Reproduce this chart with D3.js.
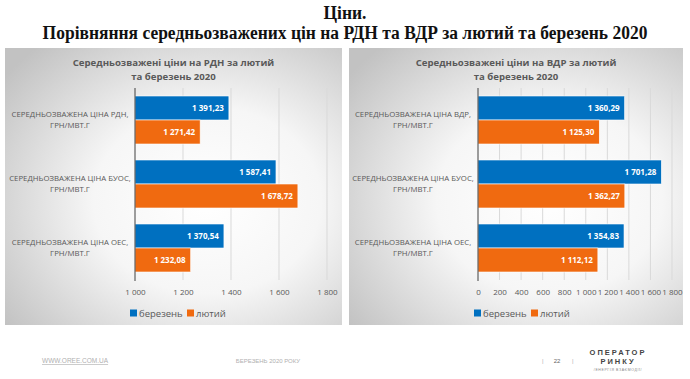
<!DOCTYPE html>
<html>
<head>
<meta charset="utf-8">
<script src="https://cdn.jsdelivr.net/npm/d3@7"></script>
<style>
  body { margin: 0; background: #fff; }
  svg { display: block; }
</style>
</head>
<body>
<script>
// data
var seriesNames = ["березень", "лютий"];
var catsRdn = ["СЕРЕДНЬОЗВАЖЕНА ЦІНА РДН,|ГРН/МВТ.Г", "СЕРЕДНЬОЗВАЖЕНА ЦІНА БУОС,|ГРН/МВТ.Г", "СЕРЕДНЬОЗВАЖЕНА ЦІНА ОЕС,|ГРН/МВТ.Г"];
var berezenRdn = [1391.23, 1587.41, 1370.54];
var lyutyiRdn = [1271.42, 1678.72, 1232.08];
var ticksRdn = [1000, 1200, 1400, 1600, 1800];

var catsVdr = ["СЕРЕДНЬОЗВАЖЕНА ЦІНА ВДР,|ГРН/МВТ.Г", "СЕРЕДНЬОЗВАЖЕНА ЦІНА БУОС,|ГРН/МВТ.Г", "СЕРЕДНЬОЗВАЖЕНА ЦІНА ОЕС,|ГРН/МВТ.Г"];
var berezenVdr = [1360.29, 1701.28, 1354.83];
var lyutyiVdr = [1125.30, 1362.27, 1112.12];
var ticksVdr = [0, 200, 400, 600, 800, 1000, 1200, 1400, 1600, 1800];

var colors = ["#0070C0", "#F06A10"];
var W = 690, H = 379;
var ua = d3.formatLocale({decimal: ",", thousands: "\u00a0", grouping: [3], currency: ["", ""]});
var fmtVal = ua.format(",.2f");
var fmtTick = ua.format(",.0f");
var sans = "'Open Sans', sans-serif";

var svg = d3.select("body").append("svg")
  .attr("width", W).attr("height", H);

var defs = svg.append("defs");
var grad = defs.append("radialGradient").attr("id", "panelGrad")
  .attr("cx", "60%").attr("cy", "55%").attr("r", "75%");
grad.append("stop").attr("offset", "0%").attr("stop-color", "#ffffff");
grad.append("stop").attr("offset", "45%").attr("stop-color", "#f6f6f6");
grad.append("stop").attr("offset", "100%").attr("stop-color", "#c2c2c2");

// slide title (Times-like, a bit narrower)
var ttl = svg.append("g").attr("transform", "translate(345,0) scale(0.92,1)")
  .attr("font-family", "'Liberation Serif', serif").attr("font-weight", "bold")
  .attr("font-size", 19).attr("fill", "#111").attr("text-anchor", "middle");
ttl.append("text").attr("x", 0).attr("y", 19).text("Ціни.");
ttl.append("text").attr("x", 0).attr("y", 39)
  .text("Порівняння середньозважених цін на РДН та ВДР за лютий та березень 2020");

function drawPanel(p) {
  var g = svg.append("g");
  g.append("rect").attr("x", p.px).attr("y", p.py).attr("width", p.pw).attr("height", p.ph)
    .attr("fill", "url(#panelGrad)");

  var cx = p.px + p.pw / 2;
  g.selectAll("text.ttl").data(p.title).enter().append("text")
    .attr("x", cx).attr("y", function(d, i) { return 66 + i * 13.5; })
    .attr("text-anchor", "middle").attr("font-family", sans)
    .attr("font-weight", "bold").attr("font-size", 9.6).attr("fill", "#595959")
    .text(function(d) { return d; });

  var x = d3.scaleLinear().domain(p.domain).range([p.x0, p.x1]);
  var y = d3.scaleBand().domain(p.cats).range([88, 280])
    .paddingInner(0.25).paddingOuter(0.125);
  var ySub = d3.scaleBand().domain([0, 1]).range([0, y.bandwidth()]);

  // grid
  g.selectAll("line.grid").data(p.ticks.slice(1)).enter().append("line")
    .attr("x1", function(d) { return x(d); }).attr("x2", function(d) { return x(d); })
    .attr("y1", 88).attr("y2", 280)
    .attr("stroke", "#d9d9d9").attr("stroke-width", 1);

  // tick labels via axis
  var ax = g.append("g").attr("transform", "translate(0,286)")
    .call(d3.axisBottom(x).tickValues(p.ticks).tickFormat(fmtTick).tickSize(0));
  ax.select(".domain").remove();
  ax.selectAll("text").attr("font-family", sans).attr("font-size", 8)
    .attr("fill", "#595959");

  // bars
  var rows = p.cats.map(function(c, i) { return {cat: c, vals: [p.s1[i], p.s2[i]]}; });
  var grp = g.selectAll("g.cat").data(rows).enter().append("g")
    .attr("transform", function(d) { return "translate(0," + y(d.cat) + ")"; });
  var bars = grp.selectAll("g.bar").data(function(d) { return d.vals; }).enter().append("g");
  bars.append("rect")
    .attr("x", x(p.domain[0]))
    .attr("y", function(d, i) { return ySub(i); })
    .attr("width", function(d) { return x(d) - x(p.domain[0]); })
    .attr("height", ySub.bandwidth())
    .attr("fill", function(d, i) { return colors[i]; })
    .attr("stroke", "#ffffff").attr("stroke-width", 0.6);
  bars.append("text")
    .attr("x", function(d) { return x(d) - 5; })
    .attr("y", function(d, i) { return ySub(i) + ySub.bandwidth() / 2 + 3; })
    .attr("text-anchor", "end").attr("font-family", sans).attr("font-weight", "bold")
    .attr("font-size", 8).attr("fill", "#fff")
    .text(function(d) { return fmtVal(d); });

  // category labels
  grp.each(function(d) {
    var lines = d.cat.split("|");
    d3.select(this).selectAll("text.cl").data(lines).enter().append("text")
      .attr("x", p.labelX)
      .attr("y", function(t, i) { return y.bandwidth() / 2 - 3 + i * 11; })
      .attr("text-anchor", "middle").attr("font-family", sans)
      .attr("font-size", 7.8).attr("fill", "#595959")
      .text(function(t) { return t; });
  });

  // base axis
  g.append("line").attr("x1", p.x0).attr("x2", p.x0).attr("y1", 88).attr("y2", 281)
    .attr("stroke", "#404040").attr("stroke-width", 1);

  // legend
  var leg = g.selectAll("g.leg").data(seriesNames).enter().append("g")
    .attr("transform", function(d, i) { return "translate(" + (p.legX + i * 57) + ",313)"; });
  leg.append("rect").attr("x", 0).attr("y", -3.5).attr("width", 7).attr("height", 7)
    .attr("fill", function(d, i) { return colors[i]; });
  leg.append("text").attr("x", 9).attr("y", 3.5)
    .attr("font-family", sans).attr("font-size", 9.5).attr("fill", "#595959")
    .text(function(d) { return d; });
}

drawPanel({
  px: 5, py: 48, pw: 337, ph: 277,
  title: ["Середньозважені ціни на РДН за лютий", "та березень 2020"],
  cats: catsRdn, s1: berezenRdn, s2: lyutyiRdn, ticks: ticksRdn,
  domain: [1000, 1800], x0: 135, x1: 327, labelX: 70, legX: 130
});
drawPanel({
  px: 349, py: 48, pw: 334, ph: 277,
  title: ["Середньозважені ціни на ВДР за лютий", "та березень 2020"],
  cats: catsVdr, s1: berezenVdr, s2: lyutyiVdr, ticks: ticksVdr,
  domain: [0, 1800], x0: 478, x1: 672, labelX: 413, legX: 474
});

// footer
var foot = svg.append("g").attr("font-family", "'Liberation Sans Narrow', 'Liberation Sans', sans-serif")
  .attr("fill", "#b0b0b0");
foot.append("text").attr("x", 42).attr("y", 363).attr("font-size", 6.5)
  .attr("text-decoration", "underline").text("WWW.OREE.COM.UA");
foot.append("text").attr("x", 268).attr("y", 363).attr("font-size", 6)
  .attr("text-anchor", "middle").text("БЕРЕЗЕНЬ 2020 РОКУ");
foot.append("text").attr("x", 542).attr("y", 363).attr("font-size", 6).text("|");
foot.append("text").attr("x", 557).attr("y", 363).attr("font-size", 6)
  .attr("text-anchor", "middle").attr("fill", "#666").text("22");
foot.append("text").attr("x", 572).attr("y", 363).attr("font-size", 6).text("|");
foot.append("text").attr("x", 618).attr("y", 355).attr("font-size", 7.5)
  .attr("text-anchor", "middle").attr("font-weight", "bold").attr("fill", "#444")
  .attr("letter-spacing", 2).text("ОПЕРАТОР");
foot.append("text").attr("x", 618).attr("y", 364).attr("font-size", 7.5)
  .attr("text-anchor", "middle").attr("font-weight", "bold").attr("fill", "#444")
  .attr("letter-spacing", 2).text("РИНКУ");
foot.append("text").attr("x", 618).attr("y", 371).attr("font-size", 3.5)
  .attr("text-anchor", "middle").attr("fill", "#888")
  .attr("letter-spacing", 0.6).text("/ЕНЕРГІЯ ВЗАЄМОДІЇ/");
</script>
</body>
</html>
